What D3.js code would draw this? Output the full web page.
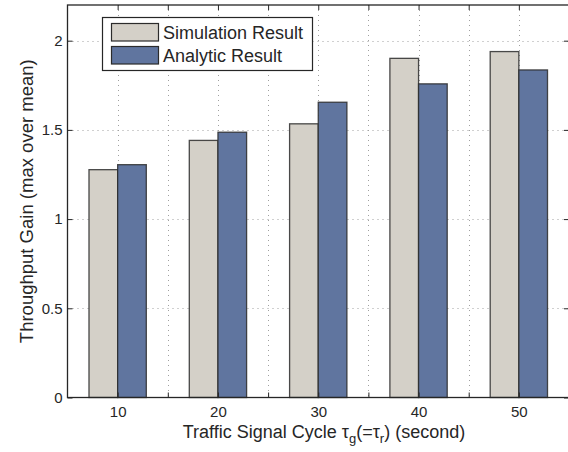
<!DOCTYPE html>
<html>
<head>
<meta charset="utf-8">
<script src="https://cdn.jsdelivr.net/npm/d3@7"></script>
<style>
  body { margin: 0; background: #fff; }
  svg { display: block; }
  text { font-family: "Liberation Sans", Arial, Helvetica, sans-serif; fill: #262626; }
</style>
</head>
<body>
<svg id="chart" width="568" height="452"></svg>
<script>
// Throughput gain per traffic signal cycle length
const categories = ["10", "20", "30", "40", "50"];
const simulation = [1.277, 1.441, 1.534, 1.901, 1.939];
const analytic   = [1.305, 1.487, 1.655, 1.758, 1.836];
const seriesNames = ["Simulation Result", "Analytic Result"];
const yTicks = [0, 0.5, 1, 1.5, 2];
const yTickLabels = ["0", "0.5", "1", "1.5", "2"];

const colors = ["#d4d0c8", "#60759f"];
const series = [simulation, analytic];

const svg = d3.select("#chart");
const plot = { left: 67.5, right: 569, top: 5, bottom: 397.5 };

// category i sits at position i+1; ticks every half unit
const x = d3.scaleLinear().domain([0.5, 5.5]).range([plot.left, plot.right]);
const y = d3.scaleLinear().domain([0, 2.2]).range([plot.bottom, plot.top]);
const barW = 2 / 7; // grouped bar width per series
const xTickVals = d3.range(1, 5.01, 0.5);

// dotted grid
const grid = svg.append("g").attr("stroke", "#a0a0a0").attr("stroke-width", 1)
  .attr("stroke-dasharray", "1,4").attr("fill", "none");
grid.selectAll("line.v").data(xTickVals).join("line")
  .attr("x1", d => Math.round(x(d)) + 0.5).attr("x2", d => Math.round(x(d)) + 0.5)
  .attr("y1", plot.top).attr("y2", plot.bottom);
grid.selectAll("line.h").data(yTicks.filter(d => d > 0)).join("line")
  .attr("y1", d => Math.round(y(d)) + 0.5).attr("y2", d => Math.round(y(d)) + 0.5)
  .attr("x1", plot.left).attr("x2", plot.right);

// bars
const bars = svg.append("g");
series.forEach((vals, s) => {
  bars.selectAll(null).data(vals).join("rect")
    .attr("x", (d, i) => x(i + 1 + (s === 0 ? -barW : 0)))
    .attr("width", x(1 + barW) - x(1))
    .attr("y", d => y(d))
    .attr("height", d => y(0) - y(d))
    .attr("fill", colors[s])
    .attr("stroke", "#2b2b2b")
    .attr("stroke-width", 1.3)
    .attr("stroke-opacity", 0.85);
});

// axes
const xAxis = d3.axisBottom(x).tickValues(xTickVals).tickSize(-5).tickPadding(9)
  .tickFormat(d => Number.isInteger(d) ? categories[d - 1] : "");
const gx = svg.append("g").attr("transform", `translate(0,${plot.bottom})`).call(xAxis);
const gxTop = svg.append("g").attr("transform", `translate(0,${plot.top})`)
  .call(d3.axisTop(x).tickValues(xTickVals).tickSize(-5).tickFormat(""));
const yAxis = d3.axisLeft(y).tickValues(yTicks).tickSize(-5).tickPadding(5)
  .tickFormat((d, i) => yTickLabels[i]);
const gy = svg.append("g").attr("transform", `translate(${plot.left},0)`).call(yAxis);
const gyR = svg.append("g").attr("transform", `translate(${plot.right},0)`)
  .call(d3.axisRight(y).tickValues(yTicks).tickSize(-5).tickFormat(""));

[gx, gxTop, gy, gyR].forEach(g => {
  g.select(".domain").remove();
  g.selectAll(".tick line").attr("stroke", "#262626").attr("stroke-width", 1);
  g.selectAll(".tick text").attr("font-size", 15).attr("fill", "#262626")
    .style("font-family", '"Liberation Sans", Arial, sans-serif');
});

// axes box
svg.append("rect")
  .attr("x", plot.left).attr("y", plot.top)
  .attr("width", plot.right - plot.left).attr("height", plot.bottom - plot.top)
  .attr("fill", "none").attr("stroke", "#262626").attr("stroke-width", 1.3);

// axis titles
const xl = svg.append("text")
  .attr("x", 324).attr("y", 438)
  .attr("text-anchor", "middle").attr("font-size", 18);
xl.append("tspan").text("Traffic Signal Cycle ");
xl.append("tspan").text("τ");
xl.append("tspan").attr("font-size", 13).attr("dy", 5).text("g");
xl.append("tspan").attr("dy", -5).text("(=τ");
xl.append("tspan").attr("font-size", 13).attr("dy", 5).text("r");
xl.append("tspan").attr("dy", -5).text(") (second)");

svg.append("text")
  .attr("transform", `translate(32.5,${(plot.top + plot.bottom) / 2}) rotate(-90)`)
  .attr("text-anchor", "middle").attr("font-size", 18.5)
  .text("Throughput Gain (max over mean)");

// legend
const lg = svg.append("g");
lg.append("rect").attr("x", 102.5).attr("y", 17.5).attr("width", 210).attr("height", 53)
  .attr("fill", "#fff").attr("stroke", "#262626").attr("stroke-width", 1.2);
seriesNames.forEach((name, s) => {
  const yy = 23.5 + s * 23;
  lg.append("rect").attr("x", 111.5).attr("y", yy).attr("width", 47).attr("height", 17.5)
    .attr("fill", colors[s]).attr("stroke", "#2b2b2b").attr("stroke-width", 1.2);
  lg.append("text").attr("x", 163).attr("y", yy + 15).attr("font-size", 18).text(name);
});
</script>
</body>
</html>
